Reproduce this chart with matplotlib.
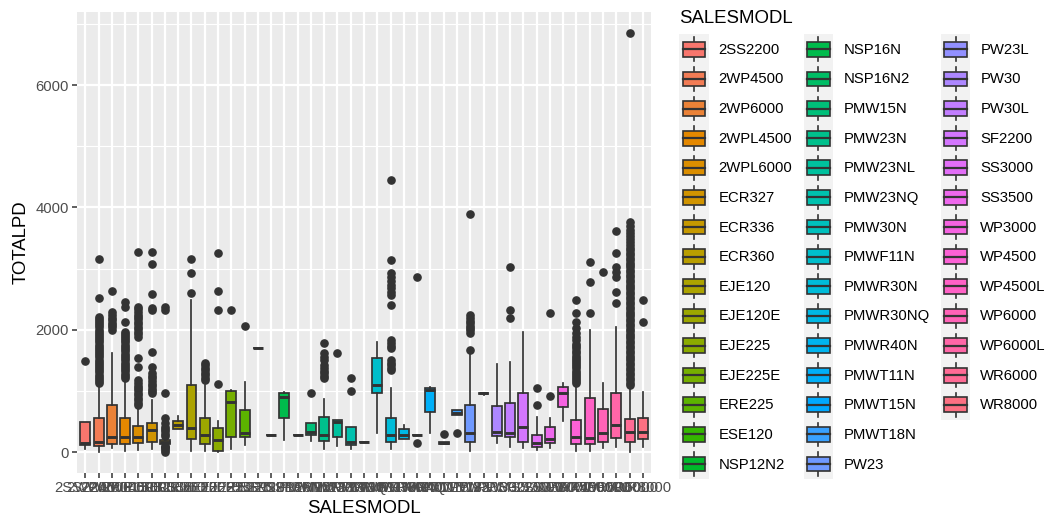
import numpy as np
import matplotlib
matplotlib.use("Agg")
import matplotlib.pyplot as plt
from matplotlib.patches import Patch, Rectangle
from matplotlib.lines import Line2D
from matplotlib.legend_handler import HandlerBase

plt.rcParams['font.family'] = ['Liberation Sans', 'DejaVu Sans']

models = ["2SS2200", "2WP4500", "2WP6000", "2WPL4500", "2WPL6000", "ECR327",
          "ECR336", "ECR360", "EJE120", "EJE120E", "EJE225", "EJE225E", "ERE225",
          "ESE120", "NSP12N2", "NSP16N", "NSP16N2", "PMW15N", "PMW23N", "PMW23NL",
          "PMW23NQ", "PMW30N", "PMWF11N", "PMWR30N", "PMWR30NQ", "PMWR40N",
          "PMWT11N", "PMWT15N", "PMWT18N", "PW23", "PW23L", "PW30", "PW30L",
          "SF2200", "SS3000", "SS3500", "WP3000", "WP4500", "WP4500L", "WP6000",
          "WP6000L", "WR6000", "WR8000"]

# box statistics (TOTALPD)
whislo = [54, 10, 76, 20, 37, 48, 120, 380, 21, 27, 10, 54, 119, 1697, 283,
          201, 283, 190, 49, 109, 49, 174, 310, 49, 212, 283, 310, 130, 609,
          27, 935, 147, 92, 65, 38, 65, 517, 27, 27, 65, 92, 11, 92]
q1 = [119, 108, 130, 130, 158, 174, 140, 380, 212, 130, 27, 255, 255, 1697, 283,
      555, 283, 283, 190, 256, 120, 174, 974, 174, 212, 283, 664, 130, 609,
      174, 950, 267, 245, 174, 92, 147, 745, 136, 136, 174, 228, 174, 212]
med = [157, 174, 255, 255, 255, 364, 174, 446, 402, 282, 200, 826, 310, 1697, 283,
       908, 283, 337, 283, 500, 174, 174, 1099, 283, 283, 283, 1017, 158, 647,
       310, 963, 337, 310, 419, 147, 212, 963, 256, 228, 310, 446, 337, 337]
q3 = [489, 554, 772, 565, 430, 473, 200, 511, 1098, 565, 391, 1000, 690, 1697, 283,
      963, 283, 473, 571, 528, 419, 174, 1534, 555, 375, 283, 1044, 175, 691,
      772, 975, 756, 800, 974, 283, 408, 1061, 528, 881, 702, 974, 539, 555]
whishi = [489, 1098, 1615, 1180, 745, 853, 240, 598, 2486, 1098, 516, 1010, 1152, 1697, 283,
          980, 283, 473, 865, 528, 419, 174, 1806, 1044, 446, 283, 1072, 175, 691,
          1616, 975, 1442, 1480, 1969, 582, 555, 1137, 1072, 1997, 1137, 2051, 1072, 990]

fliers = [
    [1496],
    [1130, 1165, 1200, 1235, 1270, 1305, 1340, 1375, 1410, 1445, 1480, 1515, 1550,
     1585, 1620, 1655, 1690, 1725, 1760, 1795, 1830, 1865, 1900, 1935, 1970, 2005,
     2040, 2075, 2110, 2145, 2180, 2214, 2513, 3150],
    [2000, 2040, 2080, 2120, 2160, 2200, 2250, 2300, 2633],
    [1208, 1245, 1280, 1320, 1355, 1390, 1430, 1465, 1500, 1540, 1575, 1610, 1650,
     1685, 1720, 1760, 1795, 1830, 1870, 1905, 1940, 1969, 2132, 2377, 2459],
    [772, 810, 850, 890, 930, 970, 1010, 1050, 1090, 1130, 1180, 1398, 1534,
     1888, 1930, 1970, 2010, 2050, 2090, 2130, 2170, 2210, 2250, 2300, 2340, 2377, 3275],
    [963, 1000, 1040, 1080, 1120, 1160, 1208, 1250, 1290, 1398, 1643, 2323, 2350,
     2584, 3068, 3275],
    [10, 40, 70, 92, 110, 260, 300, 340, 380, 420, 473, 554, 963, 2320, 2380],
    [],
    [2595, 2921, 3150],
    [1180, 1220, 1260, 1300, 1340, 1380, 1420, 1452],
    [1109, 2323, 2633, 3248],
    [2323],
    [2062],
    [], [], [], [],
    [963],
    [1208, 1250, 1290, 1330, 1370, 1425, 1507, 1560, 1616, 1779],
    [1627],
    [1001, 1208],
    [], [],
    [1344, 1385, 1425, 1465, 1507, 1697, 1740, 1790, 1833, 2405, 2568, 2620, 2680,
     2740, 2800, 2860, 2921, 3139, 4444],
    [],
    [158, 2856],
    [],
    [299],
    [310],
    [1670, 1950, 1990, 2030, 2070, 2110, 2150, 2190, 2240, 3900],
    [], [],
    [2187, 2323, 3030],
    [],
    [772, 1044],
    [919, 2268],
    [],
    [1126, 1160, 1195, 1230, 1265, 1300, 1335, 1370, 1405, 1440, 1475, 1510, 1545,
     1580, 1615, 1650, 1697, 1735, 1770, 1833, 1880, 1942, 2024, 2132, 2268, 2486],
    [2279, 2785, 3112],
    [2948],
    [2432, 2622, 2867, 2948, 3030, 3248, 3618],
    [1100, 1140, 1180, 1220, 1260, 1300, 1340, 1380, 1420, 1460, 1500, 1540, 1580,
     1620, 1660, 1700, 1740, 1780, 1820, 1860, 1900, 1940, 1980, 2020, 2060, 2100,
     2140, 2180, 2220, 2260, 2300, 2340, 2380, 2420, 2460, 2500, 2540, 2580, 2620,
     2660, 2700, 2740, 2780, 2820, 2860, 2900, 2940, 2980, 3020, 3060, 3100, 3140,
     3180, 3220, 3260, 3300, 3345, 3390, 3440, 3490, 3540, 3590, 3628, 3690, 3764, 6849],
    [2132, 2486],
]


def hue_colors(n, c=100, l=65):
    # ggplot2 default hue palette (hcl -> sRGB)
    hs = np.linspace(15, 375, n + 1)[:-1] % 360
    Xn, Yn, Zn = 95.047, 100.0, 108.883
    un = 4 * Xn / (Xn + 15 * Yn + 3 * Zn)
    vn = 9 * Yn / (Xn + 15 * Yn + 3 * Zn)
    out = []
    for h in hs:
        u = c * np.cos(np.radians(h))
        v = c * np.sin(np.radians(h))
        Y = Yn * ((l + 16) / 116) ** 3
        up = u / (13 * l) + un
        vp = v / (13 * l) + vn
        X = 9 * Y * up / (4 * vp)
        Z = -X / 3 - 5 * Y + 3 * Y / vp
        X, Y, Z = X / 100, Y / 100, Z / 100
        rgb = [3.240479 * X - 1.537150 * Y - 0.498535 * Z,
               -0.969256 * X + 1.875992 * Y + 0.041556 * Z,
               0.055648 * X - 0.204043 * Y + 1.057311 * Z]
        rgb = [1.055 * t ** (1 / 2.4) - 0.055 if t > 0.0031308 else 12.92 * t for t in rgb]
        out.append(tuple(min(1, max(0, t)) for t in rgb))
    return out


colors = hue_colors(len(models))
edge = '#333333'

fig = plt.figure(figsize=(10.52, 5.23), dpi=100)
ax = fig.add_axes([0.0735, 0.0962, 0.5451, 0.8809])
ax.set_facecolor('#EBEBEB')
for s in ax.spines.values():
    s.set_visible(False)

stats = []
for i, m in enumerate(models):
    stats.append(dict(label=m, whislo=whislo[i], q1=q1[i], med=med[i],
                      q3=q3[i], whishi=whishi[i], fliers=fliers[i]))

pos = np.arange(1, len(models) + 1)
bp = ax.bxp(stats, positions=pos, widths=0.75, patch_artist=True, showcaps=False,
            boxprops=dict(edgecolor=edge, linewidth=1.25),
            medianprops=dict(color=edge, linewidth=2.1),
            whiskerprops=dict(color=edge, linewidth=1.25),
            flierprops=dict(marker='o', markerfacecolor=edge, markeredgecolor=edge,
                            markersize=5.2, linestyle='none'))
for patch, col in zip(bp['boxes'], colors):
    patch.set_facecolor(col)

ax.set_xlim(0.4, len(models) + 0.6)
ax.set_ylim(-333, 7193)
ax.set_xticks(pos)
ax.set_xticklabels(models)
ax.set_yticks([0, 2000, 4000, 6000])
ax.set_yticks([1000, 3000, 5000, 7000], minor=True)
ax.set_axisbelow(True)
ax.grid(which='major', color='white', linewidth=1.6)
ax.grid(which='minor', axis='y', color='white', linewidth=0.8)
ax.tick_params(which='major', length=3.3, width=1.1, color=edge,
               labelsize=10.7, labelcolor='#4D4D4D', pad=2.7)
ax.tick_params(which='minor', length=0)
ax.set_xlabel('SALESMODL', fontsize=13.4, labelpad=3.3)
ax.set_ylabel('TOTALPD', fontsize=13.4, labelpad=4.5)


class BoxKey(HandlerBase):
    def create_artists(self, legend, orig_handle, xdescent, ydescent,
                       width, height, fontsize, trans):
        x0, y0 = -xdescent, -ydescent
        if not orig_handle.get_visible():
            blank = Rectangle((x0, y0), width, height, facecolor='none',
                              edgecolor='none', transform=trans)
            return [blank]
        bg = Rectangle((x0, y0), width, height, facecolor='#F2F2F2',
                       edgecolor='none', transform=trans)
        box = Rectangle((x0 + 0.125 * width, y0 + 0.25 * height), 0.75 * width,
                        0.5 * height, facecolor=orig_handle.get_facecolor(),
                        edgecolor=edge, linewidth=1.2, transform=trans)
        xm = x0 + 0.5 * width
        w1 = Line2D([xm, xm], [y0 + 0.1 * height, y0 + 0.25 * height],
                    color=edge, linewidth=1.2, transform=trans)
        w2 = Line2D([xm, xm], [y0 + 0.75 * height, y0 + 0.9 * height],
                    color=edge, linewidth=1.2, transform=trans)
        md = Line2D([x0 + 0.125 * width, x0 + 0.875 * width],
                    [y0 + 0.5 * height] * 2, color=edge, linewidth=1.6,
                    transform=trans)
        return [bg, w1, w2, box, md]


handles = [Patch(facecolor=c) for c in colors]
labels = list(models)
# two empty slots so the columns split 15 / 15 / 13 like ggplot
for _ in range(2):
    h = Patch(facecolor='none')
    h.set_visible(False)
    handles.append(h)
    labels.append('')

fig.legend(handles, labels, handler_map={Patch: BoxKey()}, ncol=3,
           loc='upper left', bbox_to_anchor=(679 / 1052, 1 - 34.5 / 523),
           bbox_transform=fig.transFigure, frameon=False, fontsize=10.7,
           handlelength=2.0, handleheight=2.69, handletextpad=0.67,
           labelspacing=0.0, columnspacing=0.75, borderpad=0, borderaxespad=0)
fig.text(679 / 1052, 1 - 22.7 / 523, 'SALESMODL', fontsize=13.4,
         ha='left', va='baseline')

fig.savefig('out.png', dpi=100)
